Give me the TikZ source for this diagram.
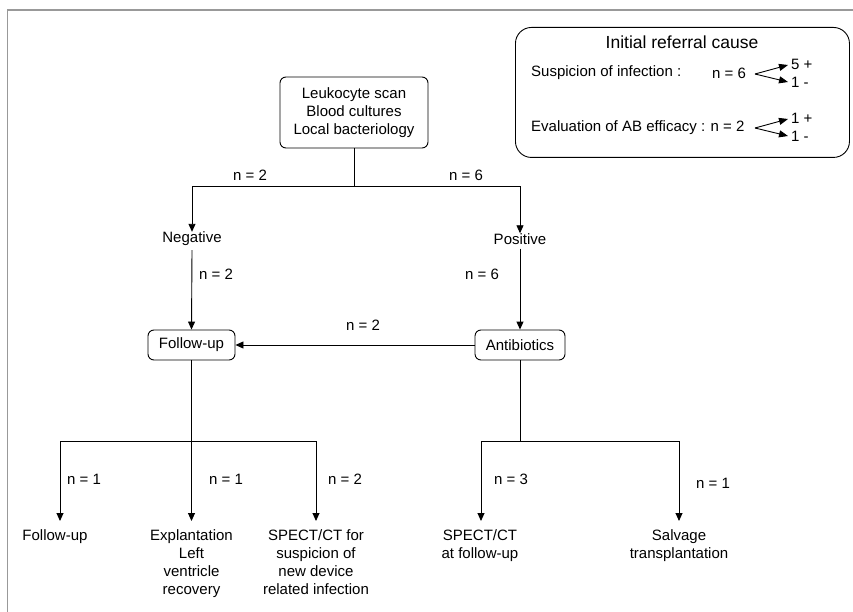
\documentclass[tikz,border=0pt]{standalone}
\usepackage{fontspec}
\setmainfont{Liberation Sans}
\usetikzlibrary{arrows.meta}
\begin{document}
\begin{tikzpicture}[x=1pt,y=-1pt,
  every node/.style={font=\fontsize{15}{18}\selectfont, inner sep=0pt},
  rbox/.style={draw, rounded corners=6pt, line width=0.9pt, align=center, inner xsep=6pt, inner ysep=5pt},
  txt/.style={align=center},
  conn/.style={line width=0.9pt},
  arr/.style={conn, -{Triangle[length=8pt,width=7pt]}},
  larr/.style={line width=0.9pt, -{Triangle[length=9pt,width=7pt]}},
  frame/.style={draw=black!40, line width=1.8pt}]
\useasboundingbox (0,0) rectangle (853,612);
% frame
\draw[frame] (7.5,612) -- (7.5,10) -- (853,10);
% legend
\node[draw, rounded corners=16pt, line width=0.9pt, minimum width=334pt, minimum height=130pt, anchor=north west] (legend) at (515,27) {};
\node[font=\fontsize{17.5}{20}\selectfont] (title) at (682,42) {Initial referral cause};
\node[anchor=west] (susp) at (531,73) {Suspicion of infection :};
\node[anchor=west] (n6l) at (712,73) {n = 6};
\node[anchor=west] (eval) at (531,128) {Evaluation of AB efficacy : n = 2};
\coordinate (s0) at (755,74);
\coordinate (e0) at (755,128);
\node[anchor=west] (s5) at (791,64) {5 +};
\node[anchor=west] (s1) at (791,82) {1 -};
\node[anchor=west] (e1p) at (791,118) {1 +};
\node[anchor=west] (e1m) at (791,136) {1 -};
\coordinate (s5t) at (788,65);
\coordinate (s1t) at (788,82);
\coordinate (e1pt) at (788,119);
\coordinate (e1mt) at (788,136);
\draw[larr] (s0) -- (s5t);
\draw[larr] (s0) -- (s1t);
\draw[larr] (e0) -- (e1pt);
\draw[larr] (e0) -- (e1mt);
% top box
\node[rbox, minimum width=148pt, minimum height=71pt] (top) at (354,112.5) {Leukocyte scan\\Blood cultures\\Local bacteriology};
\coordinate (j1) at (354,186);
\coordinate (jl) at (192,186);
\coordinate (jr) at (520,186);
\node (neg) at (192,239) {Negative};
\node (pos) at (520,239) {Positive};
\draw[conn] (top.south) -- (j1);
\draw[arr] (j1) -- (jl) -- (neg.north);
\draw[arr] (j1) -- (jr) -- (pos.north);
\node (l1) at (250,175) {n = 2};
\node (l2) at (466,175) {n = 6};
% follow-up and antibiotics
\node[rbox, minimum width=87pt, minimum height=30pt] (fu) at (191.5,345) {Follow-up};
\node[rbox, minimum width=90pt, minimum height=30pt] (ab) at (520,345) {Antibiotics};
\draw[arr] (neg.south) ++(0,4) coordinate (negb) (negb) -- (fu.north);
\draw[arr] (pos.south) ++(0,4) coordinate (posb) (posb) -- (ab.north);
\node (l3) at (216,274) {n = 2};
\node (l4) at (482,274) {n = 6};
\draw[arr] (ab.west) -- (fu.east);
\node (l5) at (363,325) {n = 2};
% follow-up branches
\coordinate (fj) at (191.5,441);
\coordinate (fa) at (60,441);
\coordinate (fc) at (316,441);
\node[txt, anchor=north] (o1) at (55,529) {Follow-up};
\node[txt, anchor=north] (o2) at (191.5,529) {Explantation\\Left\\ventricle\\recovery};
\node[txt, anchor=north] (o3) at (316,529) {SPECT/CT for\\suspicion of\\new device\\related infection};
\coordinate (o1t) at (60,521);
\draw[conn] (fu.south) -- (fj);
\draw[arr] (fj) -- (fa) -- (o1t);
\draw[arr] (fj) -- (o2.north |- o1t);
\draw[arr] (fj) -- (fc) -- (o3.north |- o1t);
\node (l6) at (84,479) {n = 1};
\node (l7) at (226,479) {n = 1};
\node (l8) at (345,479) {n = 2};
% antibiotics branches
\coordinate (aj) at (520,441);
\coordinate (aa) at (481,441);
\coordinate (ac) at (679,441);
\node[txt, anchor=north] (o4) at (480,529) {SPECT/CT\\at follow-up};
\node[txt, anchor=north] (o5) at (679,529) {Salvage\\transplantation};
\draw[conn] (ab.south) -- (aj);
\draw[arr] (aj) -- (aa) -- (aa |- o1t);
\draw[arr] (aj) -- (ac) -- (o5.north |- o1t);
\node (l9) at (511,479) {n = 3};
\node (l10) at (713,483) {n = 1};
\end{tikzpicture}
\end{document}
